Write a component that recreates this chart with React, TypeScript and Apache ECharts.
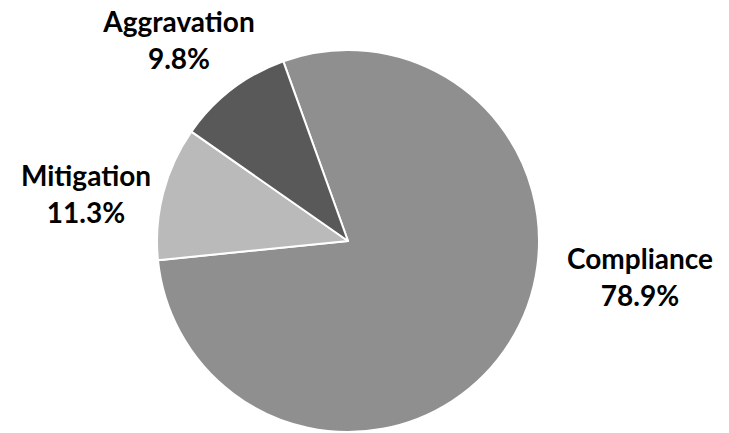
import React, { useEffect, useRef } from "react";
import * as echarts from "echarts";

const categories = ["Compliance", "Mitigation", "Aggravation"];
const values = [78.9, 11.3, 9.8];
const colors = ["#8f8f8f", "#bababa", "#595959"];
const labelPos = [
  [640, 276],
  [86, 193],
  [179, 39],
];

export default function App() {
  const ref = useRef<HTMLDivElement>(null);
  useEffect(() => {
    if (!ref.current) return;
    const chart = echarts.init(ref.current, null, { renderer: "svg" });
    chart.setOption({
      animation: false,
      backgroundColor: "#ffffff",
      series: [
        {
          type: "pie",
          center: [348, 241],
          radius: 191,
          startAngle: 109.8,
          clockwise: true,
          data: categories.map((c, i) => ({
            name: c,
            value: values[i],
            itemStyle: { color: colors[i] },
          })),
          itemStyle: { borderColor: "#ffffff", borderWidth: 2 },
          label: {
            show: true,
            position: "outside",
            formatter: (p: any) => `${p.name}\n${p.value.toFixed(1)}%`,
            fontFamily: "Lato",
            fontWeight: "bold",
            fontSize: 28,
            lineHeight: 37,
            color: "#000000",
            align: "center",
            overflow: "none",
            width: 200,
          },
          labelLine: { show: false },
          labelLayout: (params: any) => ({
            x: labelPos[params.dataIndex][0],
            y: labelPos[params.dataIndex][1],
            align: "center",
            verticalAlign: "middle",
          }),
          emphasis: { disabled: true },
        },
      ],
    });
    return () => chart.dispose();
  }, []);
  return (
    <div
      ref={ref}
      style={{ position: "fixed", left: 0, top: 0, width: 729, height: 433 }}
    />
  );
}
